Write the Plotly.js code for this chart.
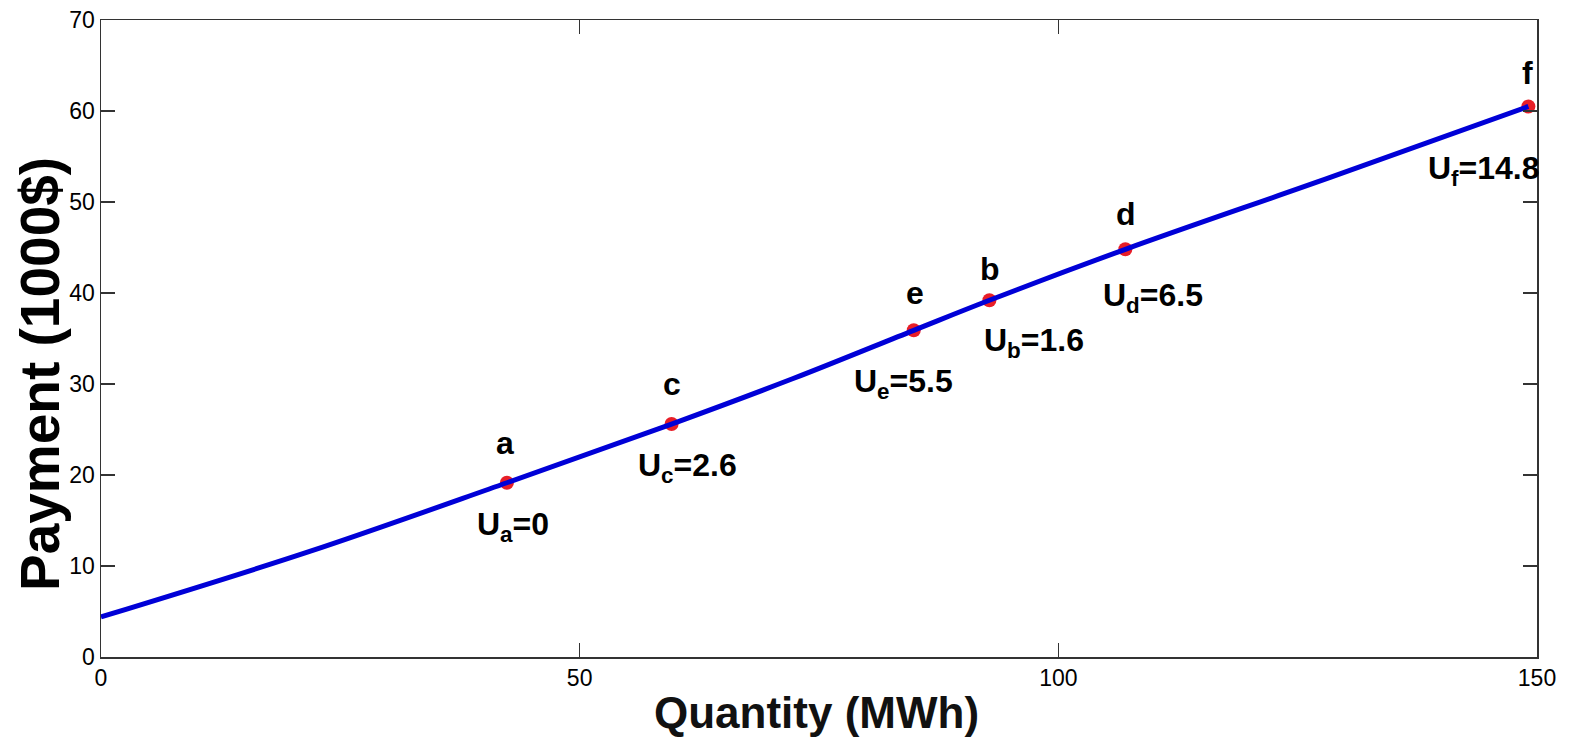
<!DOCTYPE html>
<html>
<head>
<meta charset="utf-8">
<script src="https://cdn.plot.ly/plotly-3.0.1.min.js"></script>
<style>html,body{margin:0;padding:0;background:#fff;}#chart{width:1575px;height:737px;}</style>
</head>
<body>
<div id="chart"></div>
<script>
// ---- data ----
const lineX = [0, 21.8, 42.4, 59.6, 72.3, 84.9, 92.8, 107, 128.4, 149.1];
const lineY = [4.4, 11.6, 19.15, 25.6, 30.6, 35.9, 39.2, 44.8, 52.7, 60.5];
const pointNames = ['a', 'c', 'e', 'b', 'd', 'f'];
const pointX = [42.4, 59.6, 84.9, 92.8, 107, 149.1];
const pointY = [19.15, 25.6, 35.9, 39.2, 44.8, 60.5];
const utilityValues = ['0', '2.6', '5.5', '1.6', '6.5', '14.8'];
const xTicks = [0, 50, 100, 150];
const yTicks = [0, 10, 20, 30, 40, 50, 60, 70];
const xTitle = 'Quantity (MWh)';
const yTitle = 'Payment (1000$)';

// ---- label placement (pixel shifts) ----
const nameShift = {a:[-2,40], c:[0,40], e:[1,37], b:[1,31], d:[1,35], f:[-1,33]};
const utilShift = {a:[-32,-44], c:[-36,-43], e:[-62,-53], b:[-7,-42], d:[-24,-48], f:[-102,-64]};

const FONT = 'Liberation Sans, Arial, Helvetica, sans-serif';
const annotations = [];
pointNames.forEach((n, i) => {
  annotations.push({
    x: pointX[i], y: pointY[i], xref: 'x', yref: 'y', showarrow: false,
    text: '<b>' + n + '</b>', xanchor: 'center', yanchor: 'middle',
    xshift: nameShift[n][0], yshift: nameShift[n][1],
    font: {family: FONT, size: 32, color: '#000'}
  });
  annotations.push({
    x: pointX[i], y: pointY[i], xref: 'x', yref: 'y', showarrow: false,
    text: '<b>U<sub>' + n + '</sub>=' + utilityValues[i] + '</b>', xanchor: 'left', yanchor: 'middle',
    xshift: utilShift[n][0], yshift: utilShift[n][1],
    font: {family: FONT, size: 32, color: '#000'}
  });
});
annotations.push({
  xref: 'paper', yref: 'paper', x: (816 - 101) / 1436, y: (657 - 713) / 637,
  showarrow: false, text: '<b>' + xTitle + '</b>', xanchor: 'center', yanchor: 'middle',
  font: {family: FONT, size: 44, color: '#111'}
});
annotations.push({
  xref: 'paper', yref: 'paper', x: (40 - 101) / 1436, y: (657 - 374) / 637,
  showarrow: false, text: '<b>' + yTitle + '</b>', textangle: -90, xanchor: 'center', yanchor: 'middle',
  font: {family: FONT, size: 55, color: '#000'}
});

const traces = [
  {
    x: pointX, y: pointY, type: 'scatter', mode: 'markers',
    marker: {color: 'rgb(232,30,40)', size: 14}, cliponaxis: false, hoverinfo: 'skip'
  },
  {
    x: lineX, y: lineY, type: 'scatter', mode: 'lines',
    line: {color: 'rgb(0,0,215)', width: 5, shape: 'spline', smoothing: 1}, cliponaxis: false, hoverinfo: 'skip'
  }
];

const axisCommon = {
  showgrid: false, zeroline: false, showline: true, linecolor: '#333', linewidth: 1.5,
  mirror: 'ticks', ticks: 'inside', ticklen: 14, tickwidth: 1.2, tickcolor: '#333',
  tickfont: {family: FONT, size: 23, color: '#000'}
};

const layout = {
  width: 1575, height: 737,
  margin: {l: 101, r: 38, t: 20, b: 80, pad: 0},
  paper_bgcolor: '#fff', plot_bgcolor: '#fff',
  showlegend: false,
  xaxis: Object.assign({}, axisCommon, {range: [0, 150], tickvals: xTicks, ticktext: xTicks.map(String)}),
  yaxis: Object.assign({}, axisCommon, {range: [0, 70], tickvals: yTicks, ticktext: yTicks.map(String)}),
  annotations: annotations
};

Plotly.newPlot('chart', traces, layout, {displayModeBar: false, staticPlot: true});
</script>
</body>
</html>
